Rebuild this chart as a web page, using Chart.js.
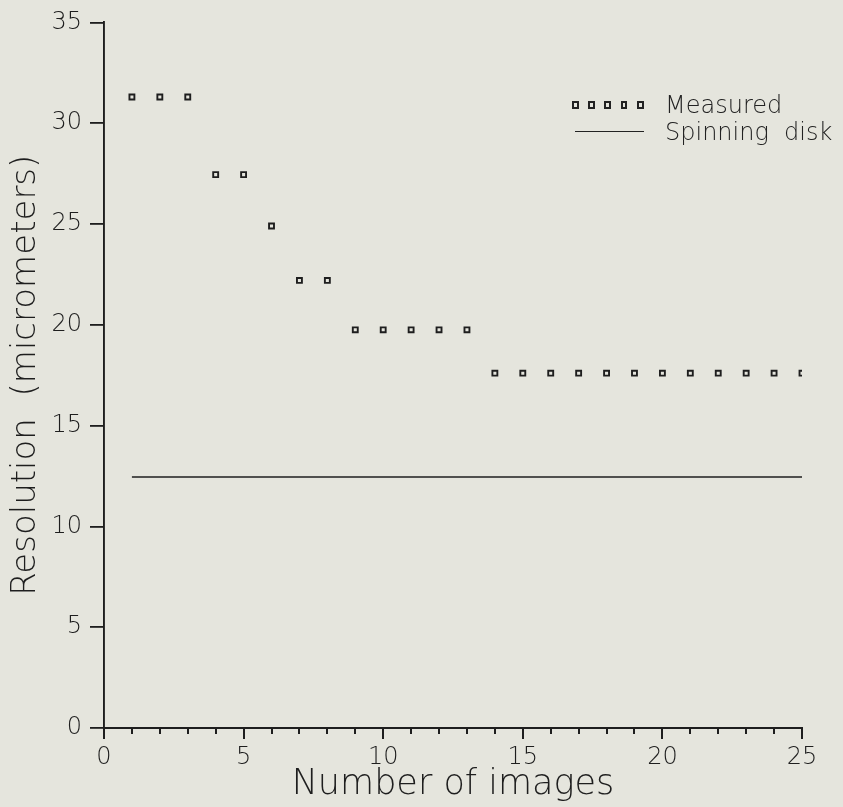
<!DOCTYPE html>
<html>
<head>
<meta charset="utf-8">
<script src="https://cdn.jsdelivr.net/npm/chart.js@4.4.1/dist/chart.umd.min.js"></script>
<style>
  html, body { margin: 0; padding: 0; background: #e5e5dd; }
  #wrap { position: relative; width: 843px; height: 807px; }
  canvas { display: block; }
  .legend { position: absolute; left: 572px; top: 91px; font-family: "DejaVu Sans", sans-serif; font-weight: 200; font-size: 24px; color: #222; }
  .row { display: flex; align-items: center; height: 27px; }
  .sym { width: 81px; display: flex; align-items: center; }
  .sq { width: 4px; height: 4px; border: 2px solid #222; margin-right: 9.5px; }
  .ln { width: 69px; height: 0; border-top: 1.6px solid #222; margin-left: 3px; }
  .lbl { margin-left: 12px; white-space: pre; }
</style>
</head>
<body>
<div id="wrap">
  <canvas id="c" width="843" height="807"></canvas>
  <div class="legend">
    <div class="row"><div class="sym"><span class="sq"></span><span class="sq"></span><span class="sq"></span><span class="sq"></span><span class="sq"></span></div><span class="lbl">Measured</span></div>
    <div class="row"><div class="sym"><span class="ln"></span></div><span class="lbl">Spinning  disk</span></div>
  </div>
</div>
<script>
const imageCounts = [1,2,3,4,5,6,7,8,9,10,11,12,13,14,15,16,17,18,19,20,21,22,23,24,25];
const measuredResolution = [31.3,31.3,31.3,27.45,27.45,24.9,22.2,22.2,19.75,19.75,19.75,19.75,19.75,17.6,17.6,17.6,17.6,17.6,17.6,17.6,17.6,17.6,17.6,17.6,17.6];
const spinningDiskX = [1, 25];
const spinningDiskY = [12.45, 12.45];
const xTickValues = [0,5,10,15,20,25];
const xMinorTickValues = [1,2,3,4,6,7,8,9,11,12,13,14,16,17,18,19,21,22,23,24];
const yTickValues = [0,5,10,15,20,25,30,35];

const ink = '#1e1e1e';
const fam = '"DejaVu Sans", sans-serif';

const measuredPts = imageCounts.map((x, i) => ({x: x, y: measuredResolution[i]}));
const diskPts = spinningDiskX.map((x, i) => ({x: x, y: spinningDiskY[i]}));

const minorTicks = {
  id: 'minorTicks',
  afterDraw(chart) {
    const s = chart.scales.x;
    const ctx = chart.ctx;
    ctx.save();
    ctx.strokeStyle = ink;
    ctx.lineWidth = 2;
    ctx.beginPath();
    xMinorTickValues.forEach(v => {
      const px = Math.round(s.getPixelForValue(v));
      ctx.moveTo(px, s.top);
      ctx.lineTo(px, s.top + 6);
    });
    ctx.stroke();
    ctx.restore();
  }
};

new Chart(document.getElementById('c'), {
  type: 'scatter',
  data: {
    datasets: [
      { label: 'Measured', data: measuredPts, showLine: false, pointStyle: 'rect', pointRadius: 3.5,
        pointBorderWidth: 1.9, borderColor: ink, backgroundColor: 'rgba(0,0,0,0)' },
      { label: 'Spinning disk', data: diskPts, showLine: true, pointRadius: 0, borderWidth: 1.7,
        borderColor: ink, backgroundColor: 'rgba(0,0,0,0)' }
    ]
  },
  plugins: [minorTicks],
  options: {
    responsive: false,
    animation: false,
    devicePixelRatio: 1,
    layout: { padding: { top: 22, right: 41, left: 0, bottom: 0 } },
    plugins: { legend: { display: false }, tooltip: { enabled: false } },
    scales: {
      x: {
        type: 'linear', position: 'bottom', min: 0, max: 25,
        afterBuildTicks: s => { s.ticks = xTickValues.map(v => ({value: v})); },
        ticks: { color: ink, font: { family: fam, size: 24, weight: 200 }, padding: 4, maxRotation: 0 },
        grid: { drawOnChartArea: false, drawTicks: true, tickLength: 11, color: ink, lineWidth: 2 },
        border: { display: true, color: ink, width: 1.9 },
        title: { display: true, text: 'Number of images', color: ink, font: { family: fam, size: 35, weight: 200 }, padding: { top: 0, bottom: 1 } },
        afterFit: s => { s.height = 79; }
      },
      y: {
        type: 'linear', position: 'left', min: 0, max: 35,
        afterBuildTicks: s => { s.ticks = yTickValues.map(v => ({value: v})); },
        ticks: { color: ink, font: { family: fam, size: 24, weight: 200 }, padding: 8 },
        grid: { drawOnChartArea: false, drawTicks: true, tickLength: 14, color: ink, lineWidth: 1.8 },
        border: { display: true, color: ink, width: 1.9 },
        title: { display: true, text: 'Resolution  (micrometers)', color: ink, font: { family: fam, size: 34, weight: 200 }, padding: { top: 6, bottom: 0 } },
        afterFit: s => { s.width = 104; }
      }
    }
  }
});
</script>
</body>
</html>
